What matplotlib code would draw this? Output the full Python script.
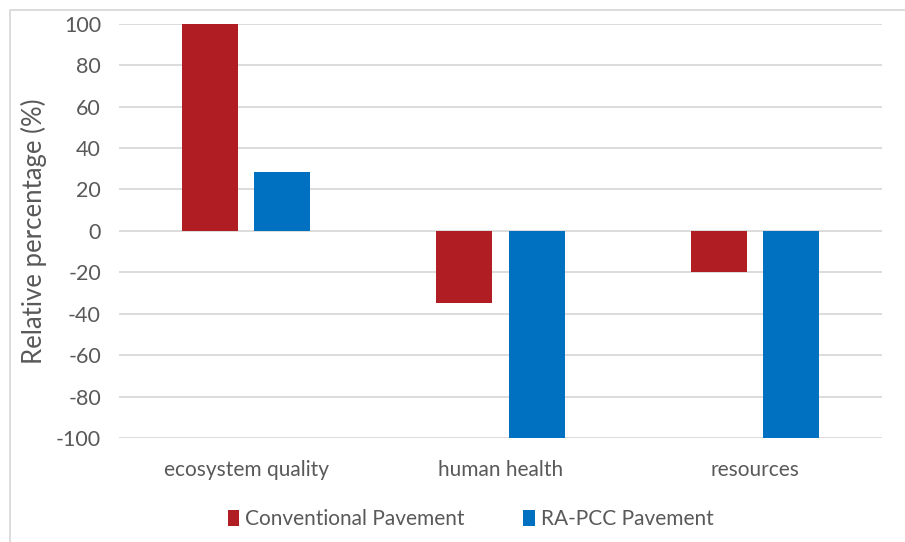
import numpy as np
import matplotlib.pyplot as plt
from matplotlib.lines import Line2D

categories = ['ecosystem quality', 'human health', 'resources']
conventional = [100, -35, -20]
ra_pcc = [28.5, -100, -100]
series_names = ['Conventional Pavement', 'RA-PCC Pavement']
colors = ['#B01E24', '#0070C0']
yticks = list(range(-100, 101, 20))

plt.rcParams['font.family'] = ['Lato', 'DejaVu Sans']
plt.rcParams['axes.unicode_minus'] = False

fig = plt.figure(figsize=(9.05, 5.42), dpi=100)
ax = fig.add_axes([0.1315, 0.192, 0.843, 0.764])

# chart border (only left and top edges show, the rest is cropped off)
fig.lines.append(Line2D([0.0116, 0.0116, 1.0], [0.0, 0.982, 0.982], transform=fig.transFigure,
                        color='#D9D9D9', linewidth=1.3))

x = np.arange(len(categories))
width = 0.22
offset = 0.142
ax.bar(x - offset, conventional, width, color=colors[0], label=series_names[0], zorder=3)
ax.bar(x + offset, ra_pcc, width, color=colors[1], label=series_names[1], zorder=3)

ax.set_xlim(-0.5, 2.5)
ax.set_ylim(-100, 100)
ax.set_yticks(yticks)
ax.yaxis.grid(True, color='#D9D9D9', linewidth=1.3, zorder=0)
ax.set_axisbelow(True)
for s in ax.spines.values():
    s.set_visible(False)
ax.tick_params(axis='both', length=0, labelsize=15.5, labelcolor='#595959')
ax.tick_params(axis='y', pad=13)
ax.set_xticks(x)
ax.set_xticklabels(categories, fontsize=15)
ax.tick_params(axis='x', pad=16)
ax.set_ylabel('Relative percentage (%)', fontsize=18.5, color='#595959', labelpad=6)

fig.legend(loc='center', bbox_to_anchor=(0.52, 0.042), ncol=2, frameon=False,
           fontsize=15, labelcolor='#595959', handlelength=0.55, handleheight=0.85,
           handletextpad=0.3, columnspacing=2.8)

fig.savefig('out.png', dpi=100)
